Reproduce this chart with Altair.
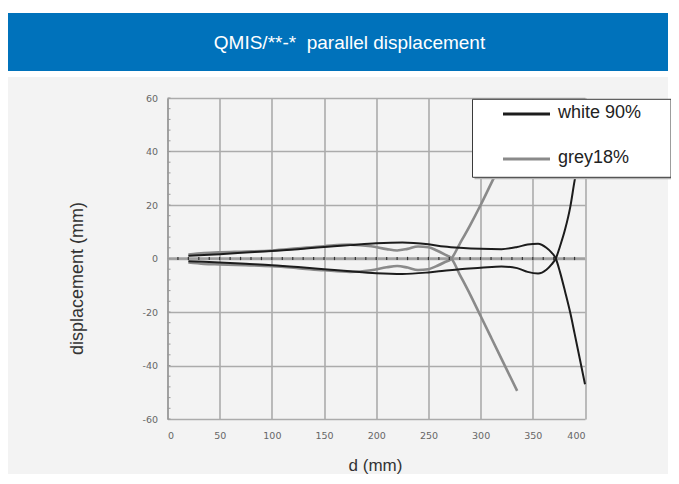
import altair as alt
import pandas as pd

# ---------------- data ----------------
chart_title = "QMIS/**-*\u00a0 parallel displacement"
x_title = "d (mm)"
y_title = "displacement (mm)"

series_names = ["white 90%", "grey18%"]
series_colors = ["#1c1c1c", "#8a8a8a"]

x_ticks = [0, 50, 100, 150, 200, 250, 300, 350, 400]
y_ticks = [-60, -40, -20, 0, 20, 40, 60]
y_minor = [-60, -56, -52, -48, -44, -40, -36, -32, -28, -24, -20, -16, -12, -8, -4, 0,
           4, 8, 12, 16, 20, 24, 28, 32, 36, 40, 44, 48, 52, 56, 60]
x_minor = [10, 20, 30, 40, 50, 60, 70, 80, 90, 100, 110, 120, 130, 140, 150, 160, 170, 180, 190, 200,
           210, 220, 230, 240, 250, 260, 270, 280, 290, 300, 310, 320, 330, 340, 350, 360, 370, 380, 390]

d_white = [20, 35, 50, 75, 100, 125, 150, 175, 200, 225, 250, 265, 280, 300, 320, 335, 345, 355, 363, 368,
           372, 376, 381, 386, 390, 395, 400]
white_upper = [1.0, 1.3, 1.6, 2.2, 2.8, 3.5, 4.3, 5.0, 5.7, 6.0, 5.3, 4.5, 4.0, 3.6, 3.5, 4.3, 5.2, 5.5, 4.0, 2.2,
               0.0, -5.0, -12.5, -20.5, -28.0, -37.5, -47.0]
white_lower = [-1.0, -1.2, -1.5, -2.0, -2.5, -3.2, -4.0, -4.8, -5.5, -5.8, -5.2, -4.6, -4.0, -3.5, -3.0, -3.6, -5.0, -5.6, -4.2, -2.2,
               0.0, 4.5, 11.0, 19.5, 29.0, 38.5, 47.0]

d_grey = [20, 35, 50, 75, 100, 125, 150, 175, 195, 210, 220, 230, 240, 250, 258, 265, 272, 280, 290, 300,
          310, 320, 335]
grey_upper = [1.5, 2.0, 2.3, 2.6, 3.0, 3.8, 4.6, 5.2, 4.6, 3.5, 3.0, 3.6, 4.5, 4.2, 3.0, 1.6, 0.0, -6.0, -13.5, -21.5,
              -29.5, -37.5, -49.5]
grey_lower = [-1.5, -2.0, -2.2, -2.5, -2.9, -3.6, -4.4, -5.0, -4.4, -3.3, -2.8, -3.4, -4.3, -4.0, -2.8, -1.5, 0.0, 5.5, 12.5, 20.0,
              28.0, 36.0, 48.0]

# ---------------- tables ----------------
rows = []
for name, d, ys, lid in [
    (series_names[1], d_grey, grey_upper, "g_up"),
    (series_names[1], d_grey, grey_lower, "g_lo"),
    (series_names[0], d_white, white_upper, "w_up"),
    (series_names[0], d_white, white_lower, "w_lo"),
]:
    for i, (xv, yv) in enumerate(zip(d, ys)):
        rows.append({"d": xv, "y": yv, "series": name, "line": lid, "i": i})
df = pd.DataFrame(rows)
one = pd.DataFrame({"a": [0]})

W, H = 417.5, 321

xs = alt.Scale(domain=[0, 400], nice=False, zero=False)
ys_ = alt.Scale(domain=[-60, 60], nice=False, zero=False)

font = "Liberation Sans"

base = alt.Chart(df)

lines = base.mark_line(interpolate="monotone").encode(
    x=alt.X("d:Q", scale=xs, axis=alt.Axis(
        values=x_ticks, grid=True, domain=False, ticks=False, labelPadding=11,
        labelFontSize=9.5, labelColor="#666", labelFont="DejaVu Sans",
        labelExpr="toString(datum.value)",
        title=x_title, titleFont=font, titleFontSize=17, titleFontWeight="normal",
        titleColor="#333", titleX=207.5, titleY=46, titleAnchor="middle", titleAlign="center",
        titleBaseline="middle")),
    y=alt.Y("y:Q", scale=ys_, axis=alt.Axis(
        values=y_ticks, grid=True, domain=True, domainColor="#999", domainWidth=1.5,
        ticks=False, labelPadding=10, labelFontSize=9.5, labelColor="#666", labelFont="DejaVu Sans",
        labelExpr="toString(datum.value)",
        title=y_title, titleFont=font, titleFontSize=18, titleFontWeight="normal",
        titleColor="#333", titleX=-90, titleY=180, titleAngle=-90, titleAlign="center",
        titleBaseline="middle")),
    color=alt.Color("series:N", scale=alt.Scale(domain=series_names, range=series_colors), legend=None),
    strokeWidth=alt.StrokeWidth("series:N", scale=alt.Scale(domain=series_names, range=[2.0, 2.6]), legend=None),
    detail="line:N",
    order="i:Q",
)

zero_line = alt.Chart(one).mark_rule(color="#a0a0a0", strokeWidth=2.5).encode(
    y=alt.datum(0, scale=ys_), x=alt.value(0), x2=alt.value(W))

zero_ticks = alt.Chart(pd.DataFrame({"t": x_minor})).mark_rule(color="#333", strokeWidth=1.2).encode(
    x=alt.X("t:Q", scale=xs), y=alt.datum(-0.6, scale=ys_), y2=alt.datum(0.6))

y_minor_ticks = alt.Chart(pd.DataFrame({"t": y_minor})).mark_rule(color="#999", strokeWidth=1).encode(
    y=alt.Y("t:Q", scale=ys_), x=alt.value(0), x2=alt.value(3))

# decorations (page layout)
white_top = alt.Chart(one).mark_rect(color="white").encode(
    x=alt.value(-160), x2=alt.value(510), y=alt.value(-91), y2=alt.value(-85))
banner = alt.Chart(one).mark_rect(color="#0072bb").encode(
    x=alt.value(-160), x2=alt.value(500.5), y=alt.value(-85), y2=alt.value(-27))
white_gap = alt.Chart(one).mark_rect(color="white").encode(
    x=alt.value(-160), x2=alt.value(510), y=alt.value(-27), y2=alt.value(-21))
white_right = alt.Chart(one).mark_rect(color="white").encode(
    x=alt.value(500.5), x2=alt.value(510), y=alt.value(-91), y2=alt.value(390))
title = alt.Chart(one).mark_text(font=font, fontSize=19, color="white", align="center", baseline="middle").encode(
    x=alt.value(182), y=alt.value(-55), text=alt.value(chart_title))

# legend
leg_shadow = alt.Chart(one).mark_rect(color="#b5b5b5").encode(
    x=alt.value(307), x2=alt.value(505.5), y=alt.value(3.3), y2=alt.value(81.3))
leg_box = alt.Chart(one).mark_rect(fill="white", stroke="#3a3a3a", strokeWidth=1).encode(
    x=alt.value(305), x2=alt.value(503.5), y=alt.value(1.3), y2=alt.value(79.3))
leg_items = []
for k, (nm, col, sw) in enumerate(zip(series_names, series_colors, [3.0, 3.0])):
    leg_items.append(alt.Chart(one).mark_rule(color=col, strokeWidth=sw).encode(
        x=alt.value(335.5), x2=alt.value(382.5), y=alt.value(16 + 45 * k)))
    leg_items.append(alt.Chart(one).mark_text(font=font, fontSize=18, color="#222", align="left",
                                              baseline="middle").encode(
        x=alt.value(390.5), y=alt.value(15 + 45 * k), text=alt.value(nm)))

chart = alt.layer(
    white_top, banner, white_gap, white_right, title,
    zero_line, y_minor_ticks, lines, zero_ticks,
    leg_shadow, leg_box, *leg_items,
).properties(
    width=W, height=H,
    autosize=alt.AutoSizeParams(type="none"),
    padding={"left": 159.5, "top": 90, "right": 86, "bottom": 55},
    background="#f3f3f3",
).configure_view(stroke=None, fill=None).configure_axis(
    gridColor="#ababab", gridWidth=1.6
)

chart.save("out.html", embed_options={"renderer": "svg", "actions": False})
